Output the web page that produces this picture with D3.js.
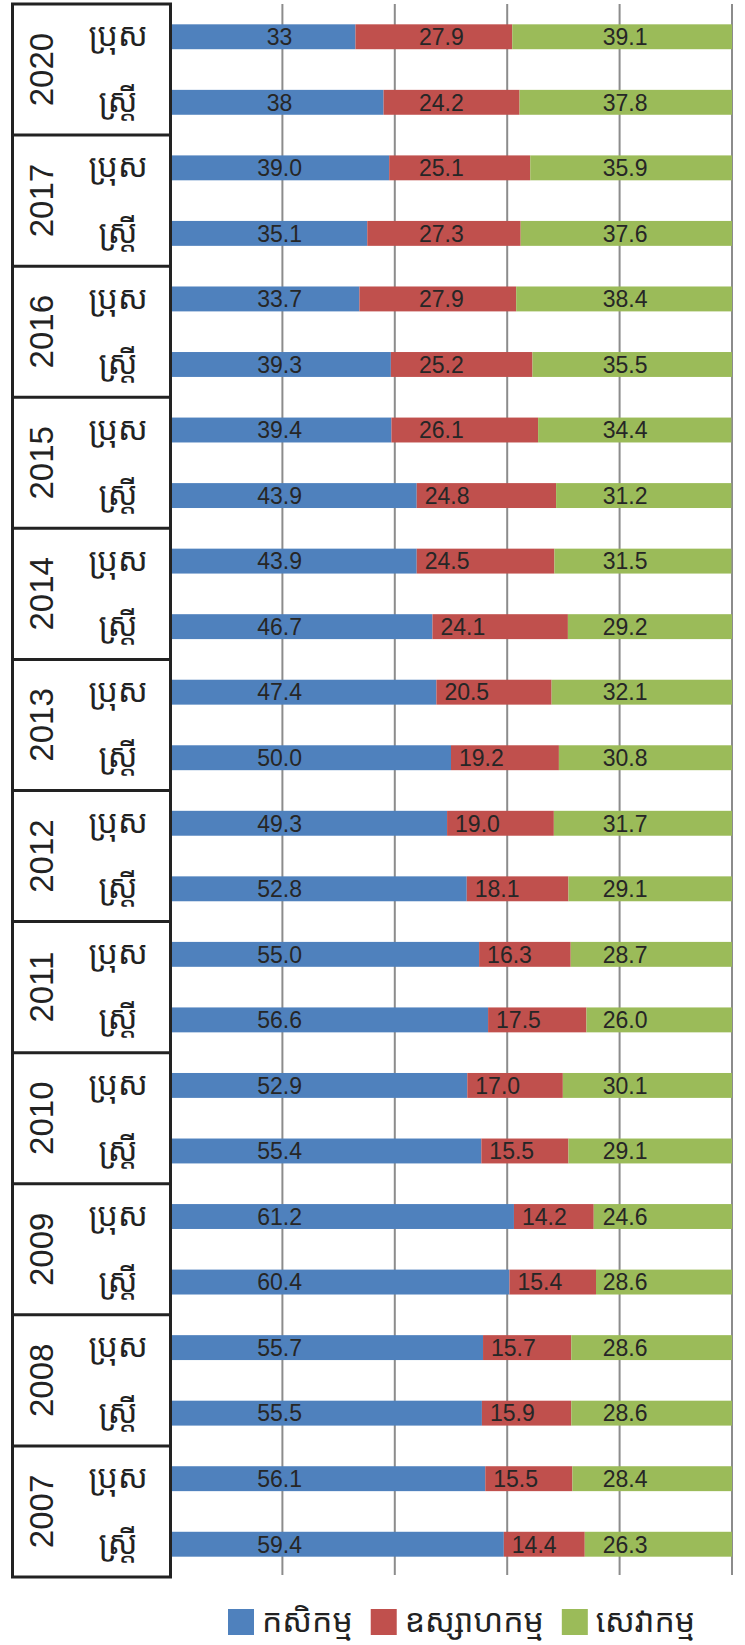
<!DOCTYPE html>
<html>
<head>
<meta charset="utf-8">
<script src="https://cdn.jsdelivr.net/npm/d3@7"></script>
<style>
  html, body { margin: 0; padding: 0; background: #fff; }
  svg { display: block; }
  .kh { font-family: "Noto Sans Khmer", "Noto Serif Khmer", "Khmer OS", "Khmer OS System", "Hanuman", sans-serif; }
</style>
</head>
<body>
<svg id="chart" width="745" height="1645"></svg>
<script>
// ---------- data ----------
const years = ["2020", "2017", "2016", "2015", "2014", "2013", "2012", "2011", "2010", "2009", "2008", "2007"];
const genders = ["ប្រុស", "ស្ត្រី"];
const sectors = ["កសិកម្ម", "ឧស្សាហកម្ម", "សេវាកម្ម"];
// order: for each year, male then female
const agriculture = [33, 38, 39.0, 35.1, 33.7, 39.3, 39.4, 43.9, 43.9, 46.7, 47.4, 50.0,
                     49.3, 52.8, 55.0, 56.6, 52.9, 55.4, 61.2, 60.4, 55.7, 55.5, 56.1, 59.4];
const industry    = [27.9, 24.2, 25.1, 27.3, 27.9, 25.2, 26.1, 24.8, 24.5, 24.1, 20.5, 19.2,
                     19.0, 18.1, 16.3, 17.5, 17.0, 15.5, 14.2, 15.4, 15.7, 15.9, 15.5, 14.4];
const services    = [39.1, 37.8, 35.9, 37.6, 38.4, 35.5, 34.4, 31.2, 31.5, 29.2, 32.1, 30.8,
                     31.7, 29.1, 28.7, 26.0, 30.1, 29.1, 24.6, 28.6, 28.6, 28.6, 28.4, 26.3];
const gridTicks = [20, 40, 60, 80, 100];
const shortFormatYears = ["2020"];

const colors = ["#4F81BD", "#C0504D", "#9BBB59"];

// ---------- build rows ----------
const rows = [];
years.forEach((yr, i) => {
  genders.forEach((g, j) => {
    const k = i * 2 + j;
    rows.push({ id: yr + "-" + j, year: yr, gender: g, values: [agriculture[k], industry[k], services[k]] });
  });
});

const svg = d3.select("#chart");

const x = d3.scaleLinear().domain([0, 100]).range([170, 732]).clamp(true);
const y = d3.scaleBand().domain(rows.map(r => r.id)).range([4, 1577])
  .paddingInner(0.62).paddingOuter(0.31);
const yearScale = d3.scaleBand().domain(years).range([4, 1577]);

// gridlines
svg.append("g").selectAll("line").data(gridTicks).join("line")
  .attr("x1", d => x(d)).attr("x2", d => x(d))
  .attr("y1", 4).attr("y2", 1575)
  .attr("stroke", "#8c8c8c").attr("stroke-width", 2);

// bars
const rowG = svg.append("g").selectAll("g").data(rows).join("g")
  .attr("transform", d => `translate(0,${y(d.id)})`);

rowG.each(function(r) {
  const g = d3.select(this);
  let acc = 0;
  const segs = r.values.map((v, i) => {
    const s = { i, v, x0: acc, x1: acc + v };
    acc += v;
    return s;
  });
  g.selectAll("rect").data(segs).join("rect")
    .attr("x", d => x(d.x0))
    .attr("width", d => Math.max(0, x(d.x1) - x(d.x0)))
    .attr("y", 0).attr("height", y.bandwidth())
    .attr("fill", d => colors[d.i]);

  const fmt = shortFormatYears.includes(r.year) ? d3.format("") : d3.format(".1f");
  g.selectAll("text").data(segs).join("text")
    .attr("x", d => d.i === 0 ? x(19.5) : d.i === 1 ? Math.max(x(d.x0) + 8, x(44.3)) : x(77))
    .attr("text-anchor", d => d.i === 0 ? "middle" : "start")
    .attr("y", y.bandwidth() / 2)
    .attr("dy", "0.36em")
    .attr("font-family", "'Liberation Sans', Arial, Helvetica, sans-serif")
    .attr("font-size", 23)
    .attr("fill", "#262626")
    .text(d => fmt(d.v));
});

// table
const table = svg.append("g");
table.append("rect")
  .attr("x", 12.5).attr("y", 4).attr("width", 158).attr("height", 1573)
  .attr("fill", "none").attr("stroke", "#222").attr("stroke-width", 3);
table.selectAll("line.sep").data(years.slice(1)).join("line")
  .attr("class", "sep")
  .attr("x1", 12.5).attr("x2", 170.5)
  .attr("y1", d => yearScale(d)).attr("y2", d => yearScale(d))
  .attr("stroke", "#222").attr("stroke-width", 3);

table.selectAll("text.yr").data(years).join("text")
  .attr("class", "yr")
  .attr("transform", d => `translate(41,${yearScale(d) + yearScale.bandwidth() / 2}) rotate(-90)`)
  .attr("text-anchor", "middle")
  .attr("dy", "0.36em")
  .attr("font-family", "'Liberation Sans Narrow', 'Liberation Sans', Arial, sans-serif")
  .attr("font-size", 33)
  .attr("fill", "#222")
  .text(d => d);

table.selectAll("text.gd").data(rows).join("text")
  .attr("class", "gd kh")
  .attr("x", 118)
  .attr("y", d => y(d.id) + y.bandwidth() / 2)
  .attr("dy", "0.3em")
  .attr("text-anchor", "middle")
  .attr("font-size", 32)
  .attr("fill", "#222")
  .text(d => d.gender);

// legend
const legend = svg.append("g");
let lx = 228;
sectors.forEach((s, i) => {
  legend.append("rect").attr("x", lx).attr("y", 1609).attr("width", 26).attr("height", 26).attr("fill", colors[i]);
  const t = legend.append("text").attr("class", "kh")
    .attr("x", lx + 34).attr("y", 1622).attr("dy", "0.32em")
    .attr("font-size", 32).attr("fill", "#222").text(s);
  const w = t.node().getComputedTextLength();
  lx = lx + 34 + w + 18;
});
</script>
</body>
</html>
